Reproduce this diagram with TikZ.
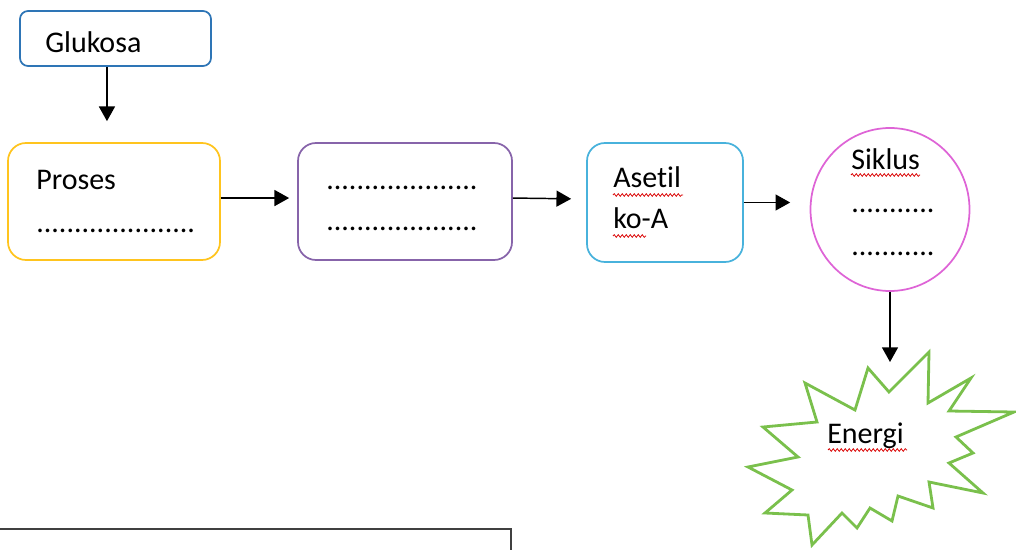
\documentclass[tikz,border=0pt]{standalone}
\usepackage{fontspec}
\setmainfont[Ligatures=NoCommon]{Carlito}
\usetikzlibrary{shapes.geometric,arrows.meta,decorations.pathmorphing}
\definecolor{gluBlue}{RGB}{46,117,182}
\definecolor{proYellow}{RGB}{255,196,30}
\definecolor{midPurple}{RGB}{135,100,170}
\definecolor{acBlue}{RGB}{72,178,220}
\definecolor{cycMagenta}{RGB}{222,100,214}
\definecolor{burstGreen}{RGB}{122,192,76}
\begin{document}
\begin{tikzpicture}[x=0.75pt,y=-0.75pt,
  box/.style={draw, line width=1.3pt, rounded corners=13.5pt, inner sep=0pt},
  lbl/.style={anchor=base west, inner sep=0pt, font=\fontsize{22.5}{27}\selectfont},
  arr/.style={draw=black, line width=1.1pt, -{Triangle[length=11pt,width=12pt]}},
  spell/.style={draw=red!85!black, line width=0.55pt, decorate,
    decoration={snake, amplitude=1pt, segment length=3pt}}]
\useasboundingbox (0,0) rectangle (1016,549);
\clip (0,0) rectangle (1016,549);

% boxes
\node[box, draw=gluBlue, rounded corners=6pt, minimum width=143.25pt, minimum height=41.25pt] (glu) at (115.5,38.5) {};
\node[box, draw=proYellow, minimum width=159pt, minimum height=87.75pt] (proses) at (114,201.5) {};
\node[box, draw=midPurple, minimum width=160.5pt, minimum height=87.75pt] (purple) at (405,201.5) {};
\node[box, draw=acBlue, minimum width=117pt, minimum height=89.25pt] (asetil) at (665,202.5) {};
\node[draw=cycMagenta, line width=1.3pt, ellipse, inner sep=0pt, minimum width=119.25pt, minimum height=122.25pt] (siklus) at (890,209.5) {};

% energy burst
\draw[draw=burstGreen, line width=2.1pt, line join=miter, miter limit=20]
  (929,352) -- (928,403) -- (971,378) -- (949,411) -- (1014,412) -- (956,437) --
  (973,453) -- (949,463) -- (983,493) -- (929,482) -- (933,508) -- (898,496) --
  (892,521) -- (870,508) -- (857,528) -- (842,513) -- (812,545) -- (808,515) --
  (765,513) -- (792,490) -- (748,467) -- (798,457) -- (763,427) -- (817,422) --
  (805,383) -- (855,410) -- (868,368) -- (889,392) -- cycle;
\coordinate (burstTip) at (890,362);

% texts
\node[lbl] (tGlu) at (45,53) {Glukosa};
\node[lbl] (tPro) at (36,189) {Proses};
\node[lbl] (dPro) at (36,232) {.....................};
\node[lbl] (dPur1) at (326,189) {....................};
\node[lbl] (dPur2) at (326,230) {....................};
\node[lbl] (tAse1) at (613,187) {Asetil};
\node[lbl] (tAse2) at (613,228) {ko-A};
\node[lbl] (tSik) at (851,169) {Siklus};
\node[lbl] (dSik1) at (851,212) {...........};
\node[lbl] (dSik2) at (851,255) {...........};
\node[lbl] (tEn) at (827,443) {Energi};

% spelling marks
\draw[spell] (613,195) -- (683,195);
\draw[spell] (613,236) -- (646,236);
\draw[spell] (851,175) -- (920,175);
\draw[spell] (828,450) -- (907,450);

% connectors
\draw[arr, shorten >=15.75pt] ([xshift=-6.4pt]glu.south) -- ([xshift=-6.4pt]glu.south |- proses.north);
\draw[arr, shorten >=6pt] ([yshift=2.6pt]proses.east) -- ([yshift=2.6pt]purple.west);
\draw[arr, shorten >=11.25pt] ([yshift=2.6pt]purple.east) -- ([yshift=2.6pt]asetil.west);
\draw[arr, shorten >=14.6pt] (asetil.east) -- (asetil.east -| siklus.west);
\draw[arr] (siklus.south) -- (burstTip);

% frame at the lower edge
\draw[draw=black!75, line width=1.5pt] (-10,529) -- (511,529) -- (511,570);
\end{tikzpicture}
\end{document}
